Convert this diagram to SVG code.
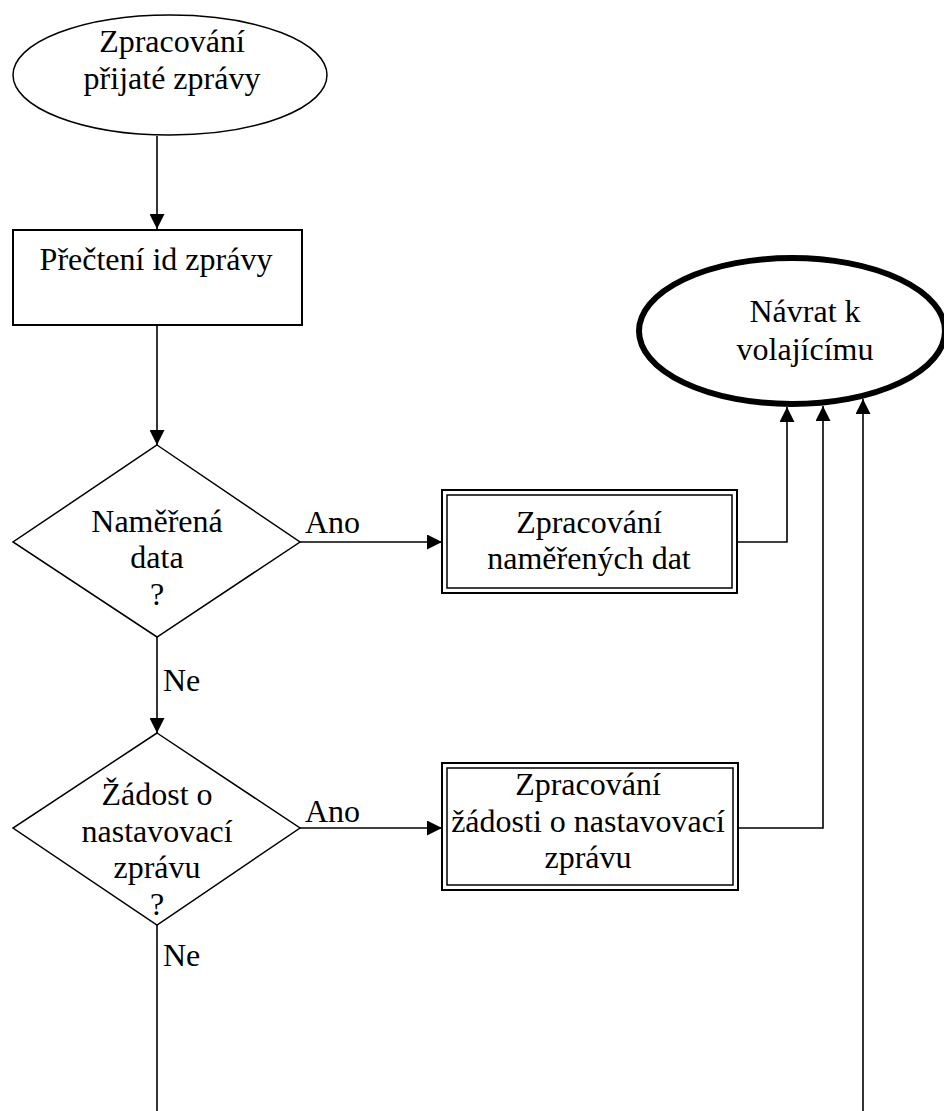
<svg xmlns="http://www.w3.org/2000/svg" width="944" height="1111" viewBox="0 0 944 1111" font-family="'Liberation Serif', 'DejaVu Serif', serif">
  <style>
    text { font-family: 'Liberation Serif', 'DejaVu Serif', serif; font-size: 32px; fill: #000; }
    .c { text-anchor: middle; }
    .shape { fill: #fff; stroke: #000; }
    .thin { stroke-width: 1.5; }
    .edge { fill: none; stroke: #000; stroke-width: 1.6; }
  </style>
  <defs>
    <marker id="arrow" markerUnits="userSpaceOnUse" markerWidth="15" markerHeight="15" refX="15" refY="7.5" orient="auto">
      <path d="M0,0 L15,7.5 L0,15 z" fill="#000"/>
    </marker>
  </defs>

  <rect width="944" height="1111" fill="#fff"/>

  <!-- connectors -->
  <g id="connectors">
    <path class="edge" d="M157,136 V229" marker-end="url(#arrow)"/>
    <path class="edge" d="M157,325 V445" marker-end="url(#arrow)"/>
    <path class="edge" d="M157,637 V733" marker-end="url(#arrow)"/>
    <path class="edge" d="M300,542 H442" marker-end="url(#arrow)"/>
    <path class="edge" d="M300,828 H442" marker-end="url(#arrow)"/>
    <path class="edge" d="M737,542 H787 V407" marker-end="url(#arrow)"/>
    <path class="edge" d="M738,828 H823 V406" marker-end="url(#arrow)"/>
    <path class="edge" d="M863,1111 V399" marker-end="url(#arrow)"/>
    <path class="edge" d="M157,925 V1111"/>
    <text x="305" y="533">Ano</text>
    <text x="305" y="822">Ano</text>
    <text x="163" y="691">Ne</text>
    <text x="163" y="966">Ne</text>
  </g>

  <!-- start terminal -->
  <g id="start">
    <ellipse class="shape thin" cx="170" cy="75" rx="157" ry="60"/>
    <text class="c" x="172" y="52">Zpracování</text>
    <text class="c" x="172" y="89">přijaté zprávy</text>
  </g>

  <!-- read message id -->
  <g id="read-id">
    <rect class="shape" x="13" y="230" width="289" height="95" stroke-width="2"/>
    <text class="c" x="156" y="270">Přečtení id zprávy</text>
  </g>

  <!-- decision: measured data -->
  <g id="decision-data">
    <polygon class="shape thin" points="157,445 300,542 157,637 13,542"/>
    <text class="c" x="157" y="532">Naměřená</text>
    <text class="c" x="157" y="568">data</text>
    <text class="c" x="157" y="605">?</text>
  </g>

  <!-- process measured data -->
  <g id="process-data">
    <rect class="shape" x="442" y="490" width="295" height="103" stroke-width="2"/>
    <rect class="shape" x="447" y="495" width="285" height="93" stroke-width="1.5"/>
    <text class="c" x="589" y="533">Zpracování</text>
    <text class="c" x="589" y="569">naměřených dat</text>
  </g>

  <!-- decision: settings request -->
  <g id="decision-request">
    <polygon class="shape thin" points="157,733 300,828 157,925 13,828"/>
    <text class="c" x="157" y="805">Žádost o</text>
    <text class="c" x="157" y="842">nastavovací</text>
    <text class="c" x="157" y="878">zprávu</text>
    <text class="c" x="157" y="915">?</text>
  </g>

  <!-- process settings request -->
  <g id="process-request">
    <rect class="shape" x="442" y="763" width="296" height="127" stroke-width="2"/>
    <rect class="shape" x="447" y="768" width="286" height="117" stroke-width="1.5"/>
    <text class="c" x="588" y="795">Zpracování</text>
    <text class="c" x="588" y="832">žádosti o nastavovací</text>
    <text class="c" x="588" y="868">zprávu</text>
  </g>

  <!-- return terminal -->
  <g id="return">
    <ellipse class="shape" cx="792" cy="331" rx="153" ry="73" stroke-width="6"/>
    <text class="c" x="805" y="322">Návrat k</text>
    <text class="c" x="805" y="360">volajícímu</text>
  </g>
</svg>
